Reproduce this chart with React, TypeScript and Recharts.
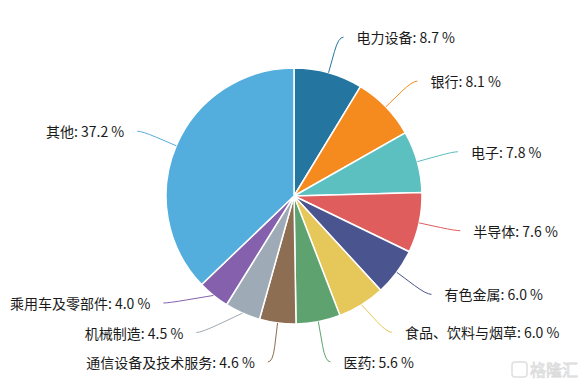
import React from 'react';
import { PieChart, Pie, Cell } from 'recharts';

const categories = ['电力设备', '银行', '电子', '半导体', '有色金属', '食品、饮料与烟草', '医药', '通信设备及技术服务', '机械制造', '乘用车及零部件', '其他'];
const weights = [8.7, 8.1, 7.8, 7.6, 6.0, 6.0, 5.6, 4.6, 4.5, 4.0, 37.2];
const colors = ['#2475a0', '#f58a1f', '#5cbfc0', '#e05d5d', '#4a558f', '#e6c75a', '#5ea36f', '#8d6e52', '#9eabb6', '#8561ad', '#54aedd'];

const data = categories.map((name, i) => ({ name, value: weights[i] }));

const W = 586;
const H = 386;
const CX = 294;
const CY = 196;
const OUTER = 128;
const LABEL_R = 165;
const LEN2 = 5;
const GAP = 13;
const MIN_SPACING = 29.5;
const MAX_Y = 362;
const MIN_Y = 20;

type Lay = { side: number; x: number; y: number; natY: number; a: number };

function computeLayout(): Lay[] {
  const total = weights.reduce((s, v) => s + v, 0);
  let acc = 0;
  const lays: Lay[] = weights.map((v) => {
    const mid = ((acc + v / 2) / total) * 2 * Math.PI; // clockwise from top
    acc += v;
    const sx = Math.sin(mid);
    const x = CX + LABEL_R * sx;
    const y = CY - LABEL_R * Math.cos(mid);
    return { side: sx >= 0 ? 1 : -1, x, y, natY: y, a: mid };
  });
  for (const side of [1, -1]) {
    const group = lays.filter((l) => l.side === side).sort((p, q) => p.y - q.y);
    for (let it = 0; it < 200; it++) {
      for (let i = 0; i < group.length - 1; i++) {
        const d = group[i + 1].y - group[i].y;
        if (d < MIN_SPACING) {
          const o = (MIN_SPACING - d) / 2;
          group[i].y -= o;
          group[i + 1].y += o;
        }
      }
      for (const g of group) {
        if (g.y > MAX_Y) g.y = MAX_Y;
        if (g.y < MIN_Y) g.y = MIN_Y;
      }
    }
    for (const g of group) {
      if (Math.abs(g.y - g.natY) > 0.5) {
        const dy = g.y - CY;
        if (Math.abs(dy) < LABEL_R) {
          g.x = CX + side * Math.sqrt(LABEL_R * LABEL_R - dy * dy);
        }
      }
    }
  }
  return lays;
}

const layout = computeLayout();

const renderLabel = (props: any) => {
  const { cx, cy, midAngle, outerRadius, index } = props;
  const rad = (-midAngle * Math.PI) / 180;
  const x0 = cx + outerRadius * Math.cos(rad);
  const y0 = cy + outerRadius * Math.sin(rad);
  const l = layout[index];
  const ex = l.x + l.side * LEN2;
  const mx = x0 + (l.x - x0) * 0.6;
  const my = y0 + (l.y - y0) * 0.6;
  const color = colors[index];
  const tx = ex + l.side * GAP;
  return (
    <g key={`lbl-${index}`}>
      <path d={`M${x0},${y0} L${mx},${my} Q${l.x},${l.y} ${ex},${l.y}`} stroke={color} strokeWidth={1} fill="none" />
      <text
        x={tx}
        y={l.y}
        textAnchor={l.side > 0 ? 'start' : 'end'}
        dominantBaseline="central"
        fill="#1a1a1a"
        fontSize={14}
        fontFamily="'Noto Sans CJK SC', 'Noto Sans', sans-serif"
      >
        {`${categories[index]}: ${weights[index].toFixed(1)} %`}
      </text>
    </g>
  );
};

export default function App() {
  return (
    <div style={{ position: 'absolute', left: 0, top: 0, width: W, height: H, background: '#fff' }}>
      <PieChart width={W} height={H} margin={{ top: 0, right: 0, bottom: 0, left: 0 }}>
        <Pie
          data={data}
          dataKey="value"
          nameKey="name"
          cx={CX}
          cy={CY}
          outerRadius={OUTER}
          startAngle={90}
          endAngle={-270}
          stroke="#ffffff"
          strokeWidth={1.5}
          label={renderLabel}
          labelLine={false}
          isAnimationActive={false}
        >
          {data.map((d, i) => (
            <Cell key={d.name} fill={colors[i]} />
          ))}
        </Pie>
        <g opacity={0.9}>
          <rect x={512} y={362} width={15} height={15} rx={3} fill="none" stroke="#dcdcdc" strokeWidth={1.5} />
          <text x={530} y={376} fontSize={16} fill="#fff" stroke="#d6d6d6" strokeWidth={0.8} fontFamily="'Noto Sans CJK SC', sans-serif">
            格隆汇
          </text>
        </g>
      </PieChart>
    </div>
  );
}
